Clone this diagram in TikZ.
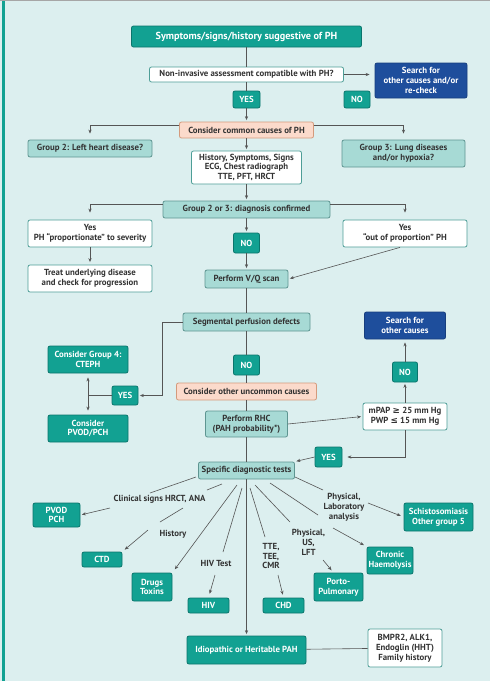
\documentclass[tikz,border=0pt]{standalone}
\usepackage{fontspec}
\setmainfont{PT Sans}
\newfontfamily\symf{DejaVu Sans}
\usetikzlibrary{arrows.meta}
\definecolor{bgc}{HTML}{DCEFEF}
\definecolor{tealc}{HTML}{12A192}
\definecolor{tealb}{HTML}{0A756C}
\definecolor{ltealc}{HTML}{A7DAD5}
\definecolor{ltealb}{HTML}{5E9591}
\definecolor{whiteb}{HTML}{4E9E97}
\definecolor{peachc}{HTML}{FBDACB}
\definecolor{peachb}{HTML}{D49A7C}
\definecolor{bluec}{HTML}{1E4E9C}
\definecolor{blueb}{HTML}{173E7E}
\definecolor{linec}{HTML}{555555}
\definecolor{txtc}{HTML}{333333}
\tikzset{
 box/.style={rounded corners=2pt, line width=0.8pt, inner sep=0.5pt, align=center, font=\fontsize{8.8}{9.8}\selectfont\bfseries},
 tbox/.style={box, fill=tealc, draw=tealb, text=white},
 lbox/.style={box, fill=ltealc, draw=ltealb, text=txtc},
 wbox/.style={box, fill=white, draw=whiteb, text=txtc},
 pbox/.style={box, fill=peachc, draw=peachb, text=txtc},
 bbox/.style={box, fill=bluec, draw=blueb, text=white},
 lbl/.style={align=center, inner sep=0pt, text=txtc, font=\fontsize{8.8}{9.8}\selectfont\bfseries},
 sz/.style 2 args={minimum width=#1pt, minimum height=#2pt},
 conn/.style={draw=linec, line width=0.6pt},
 arr/.style={conn, -{Stealth[length=4pt,width=3.2pt]}, shorten >=1.5pt},
}
\begin{document}
\begin{tikzpicture}[x=1pt,y=-1pt]
\useasboundingbox (0,0) rectangle (490,681);
\fill[bgc] (0,0) rectangle (490,681);
\fill[tealc] (2,0) rectangle (5,681);
\draw[gray!70, line width=1.2pt] (0,0.6) -- (490,0.6);

% nodes
\node[tbox, sz={230}{21}, font=\fontsize{10.2}{11}\selectfont\bfseries] (top) at (246.5,36.5) {Symptoms/signs/history suggestive of PH};
\node[wbox, sz={194}{15}] (noninv) at (246.5,74.5) {Non-invasive assessment compatible with PH?};
\node[bbox, sz={92}{35}] (search1) at (421,80.5) {Search for\\other causes and/or\\re-check};
\node[tbox, sz={27}{17}] (yes1) at (246.5,99.5) {YES};
\node[tbox, sz={26}{17}] (no1) at (357,99.5) {NO};
\node[pbox, sz={134}{16}] (common) at (246.5,130) {Consider common causes of PH};
\node[lbox, sz={124}{17}] (g2) at (90,148.5) {Group 2: Left heart disease?};
\node[lbox, sz={123}{27}] (g3) at (403.5,153.5) {Group 3: Lung diseases\\and/or hypoxia?};
\node[wbox, sz={110}{33}] (hist) at (246.5,167.5) {History, Symptoms, Signs\\ECG, Chest radiograph\\TTE, PFT, HRCT};
\node[lbox, sz={167}{17}] (g23) at (246.5,209.5) {Group 2 or 3: diagnosis confirmed};
\node[wbox, sz={124}{27}] (yesL) at (90,233.5) {Yes\\PH “proportionate” to severity};
\node[wbox, sz={124}{27}] (yesR) at (405,233.5) {Yes\\“out of proportion” PH};
\node[tbox, sz={26}{20}] (no2) at (246.5,243) {NO};
\node[wbox, sz={124}{27}] (treat) at (90,278.5) {Treat underlying disease\\and check for progression};
\node[lbox, sz={83}{18}] (vq) at (246.5,279) {Perform V/Q scan};
\node[lbox, sz={127}{18}] (seg) at (246.5,322) {Segmental perfusion defects};
\node[tbox, sz={80}{27}] (cteph) at (88,359.5) {Consider Group 4:\\CTEPH};
\node[tbox, sz={26}{19}] (yes3) at (125,395.5) {YES};
\node[tbox, sz={80}{27}] (pvod1) at (88,428.5) {Consider\\PVOD/PCH};
\node[tbox, sz={26}{20}] (no3) at (246.5,365) {NO};
\node[pbox, sz={140}{17}] (uncommon) at (246.5,391.5) {Consider other uncommon causes};
\node[lbox, sz={82}{26}] (rhc) at (246.5,424) {Perform RHC\\(PAH probability*)};
\node[wbox, sz={84}{27}] (mpap) at (405,416.5) {mPAP {\symf ≥} 25 mm Hg\\PWP {\symf ≤} 15 mm Hg};
\node[bbox, sz={81}{27}] (search2) at (405,325.5) {Search for\\other causes};
\node[tbox, sz={25}{20}] (no4) at (405,372) {NO};
\node[tbox, sz={27}{20}] (yes4) at (328.5,457) {YES};
\node[lbox, sz={96}{17}] (spec) at (246.5,470.5) {Specific diagnostic tests};
\node[tbox, sz={47}{24}] (pvod2) at (56.5,515) {PVOD\\PCH};
\node[tbox, sz={40}{15}] (ctd) at (102,559.5) {CTD};
\node[tbox, sz={40}{28}] (drugs) at (152,587) {Drugs\\Toxins};
\node[tbox, sz={41}{15}] (hiv) at (208.5,605.5) {HIV};
\node[tbox, sz={41}{15}] (chd) at (283.5,605.5) {CHD};
\node[tbox, sz={49}{28}] (porto) at (338.5,587) {Porto-\\Pulmonary};
\node[tbox, sz={46}{27}] (chronic) at (390,560.5) {Chronic\\Haemolysis};
\node[tbox, sz={69}{28}] (schisto) at (438.5,517) {Schistosomiasis\\Other group 5};
\node[tbox, sz={119}{28}] (idio) at (246.5,650) {Idiopathic or Heritable PAH};
\node[wbox, sz={74}{38}] (bmpr) at (405,648) {BMPR2, ALK1,\\Endoglin (HHT)\\Family history};

% labels
\node[lbl] (lclin) at (159.5,499) {Clinical signs HRCT, ANA};
\node[lbl] (lhist) at (173,534) {History};
\node[lbl] (lhiv) at (216,563) {HIV Test};
\node[lbl] (ltte) at (271,556) {TTE,\\TEE,\\CMR};
\node[lbl] (lphys) at (308.5,542.5) {Physical,\\US,\\LFT};
\node[lbl] (llab) at (344,507) {Physical,\\Laboratory\\analysis};

% coordinates for radiating lines
\coordinate (r1a) at (196,477); \coordinate (r1b) at (150,493); \coordinate (r1c) at (110,508);
\coordinate (r2a) at (222,484); \coordinate (r2b) at (207,490); \coordinate (r2c) at (183,508); \coordinate (r2d) at (160,522); \coordinate (r2e) at (148,530);
\coordinate (r3a) at (237,485);
\coordinate (r4a) at (242,488); \coordinate (r4b) at (223,552); \coordinate (r4c) at (215,575);
\coordinate (r5a) at (250,488); \coordinate (r5b) at (265,537); \coordinate (r5c) at (278,575);
\coordinate (r6a) at (255,485); \coordinate (r6b) at (290,522); \coordinate (r6c) at (323,560);
\coordinate (r7a) at (270,483); \coordinate (r7b) at (318,515); \coordinate (r7c) at (333,528);
\coordinate (r8a) at (295,477); \coordinate (r8b) at (323,490); \coordinate (r8c) at (368,503);

% connectors
\draw[conn] (top) -- (noninv);
\draw[conn] (noninv) -- (yes1);
\draw[arr] (yes1) -- (common);
\draw[arr, shorten >=5pt] (noninv.east) -- (noninv.east -| search1.west);
\draw[arr, shorten >=6pt] ([yshift=5pt]common.west) -| (g2.north);
\draw[arr, shorten >=6pt] ([yshift=5pt]common.east) -| (g3.north);
\draw[arr] (common) -- (hist);
\draw[arr] (hist) -- (g23);
\draw[arr, shorten >=7pt] ([yshift=5.5pt]g23.west) -| (yesL.north);
\draw[arr, shorten >=7pt] ([yshift=5.5pt]g23.east) -| (yesR.north);
\draw[arr] (g23) -- (no2);
\draw[arr] (no2) -- (vq);
\draw[arr, shorten >=2.5pt] (yesL) -- (treat);
\draw[arr] ([xshift=-5pt]yesR.south) -- (vq.east);
\draw[conn] (vq) -- (seg);
\draw[conn] (seg) -- (no3);
\draw[conn] (no3) -- (uncommon);
\draw[conn] (uncommon) -- (rhc);
\draw[conn] (rhc) -- (spec);
\draw[arr] (spec) -- (idio);
\draw[arr] (seg.west) -- ++(-20,0) |- (yes3.east);
\coordinate (j) at (yes3.west -| cteph.south);
\draw[conn] (yes3.west) -- (j);
\draw[arr, shorten >=4pt] (j) -- (cteph.south);
\draw[arr, shorten >=4pt] (j) -- (pvod1.north);
\draw[arr] (rhc.east) -- (mpap.west);
\draw[arr] (mpap) -- (no4);
\draw[arr, shorten >=3pt] (no4) -- (search2);
\draw[arr, shorten >=5pt] (mpap.south) |- (yes4.east);
\draw[arr] (yes4.west) -- (spec.north east);
\draw[conn] (idio) -- (bmpr);

\draw[conn] (r1a) -- (r1b);
\draw[arr] (r1c) -- (pvod2.east);
\draw[conn] (r2a) -- (r2b);
\draw[conn] (r2c) -- (r2d);
\draw[arr, shorten >=3pt] (r2e) -- (ctd.north east);
\draw[arr, shorten >=4pt] (r3a) -- (drugs.north east);
\draw[conn] (r4a) -- (r4b);
\draw[arr, shorten >=4pt] (r4c) -- (hiv.north);
\draw[conn] (r5a) -- (r5b);
\draw[arr, shorten >=3pt] (r5c) -- (chd.north);
\draw[conn] (r6a) -- (r6b);
\draw[arr, shorten >=3pt] (r6c) -- ([xshift=-5pt]porto.north);
\draw[conn] (r7a) -- (r7b);
\draw[arr, shorten >=3pt] (r7c) -- (chronic.north west);
\draw[conn] (r8a) -- (r8b);
\draw[arr, shorten >=3pt] (r8c) -- (schisto.west);
\end{tikzpicture}
\end{document}
